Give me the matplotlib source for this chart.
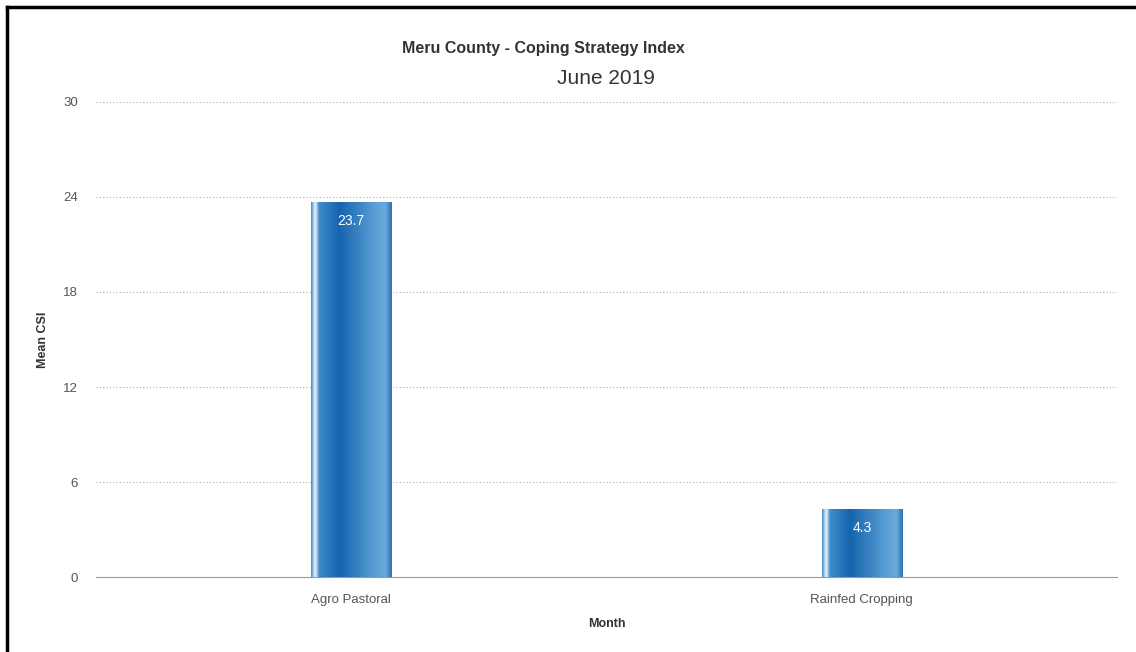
import numpy as np
import matplotlib.pyplot as plt
from matplotlib.colors import LinearSegmentedColormap

# Meru County - CSI per livelihood zone, June 2019
zones = ["Agro Pastoral", "Rainfed Cropping"]
mean_csi = [23.7, 4.3]
y_ticks = [0, 6, 12, 18, 24, 30]

plt.rcParams["font.family"] = ["Liberation Sans", "DejaVu Sans"]

fig = plt.figure(figsize=(11.36, 6.52), dpi=100)
ax = fig.add_axes([0.0845, 0.115, 0.8988, 0.7286])

x = np.arange(len(zones))
bars = ax.bar(x, mean_csi, width=0.157, color="#1f6fb8", zorder=3)

# horizontal gradient like the original column shading
grad = LinearSegmentedColormap.from_list("col", [
    (0.0, "#3f8bcb"), (0.05, "#f0f6fb"), (0.1, "#3f8bcb"),
    (0.35, "#1565ae"), (0.8, "#5b9fd6"), (0.92, "#6aaadc"), (1.0, "#2a72b5")])
g = np.linspace(0, 1, 256).reshape(1, -1)
for b in bars:
    x0, y0 = b.get_x(), b.get_y()
    im = ax.imshow(g, cmap=grad, aspect="auto", zorder=4,
                   extent=[x0, x0 + b.get_width(), y0, y0 + b.get_height()])
    im.set_clip_path(b)

for xi, v in zip(x, mean_csi):
    ax.text(xi, v - 0.75, f"{v}", ha="center", va="top", color="white",
            fontsize=10, zorder=5)

ax.set_xlim(-0.5, 1.5)
ax.set_ylim(0, 30)
ax.set_yticks(y_ticks)
ax.set_xticks(x)
ax.set_xticklabels(zones)
ax.tick_params(axis="both", length=0, labelsize=9.5, colors="#555555")
ax.tick_params(axis="y", pad=13)
ax.tick_params(axis="x", pad=12)
ax.grid(axis="y", linestyle=(0, (1, 2)), color="#aaaaaa", linewidth=0.8, zorder=0)
for s in ["top", "right", "left"]:
    ax.spines[s].set_visible(False)
ax.spines["bottom"].set_color("#999999")

ax.set_ylabel("Mean CSI", fontsize=9, fontweight="bold", color="#333333", labelpad=10)
ax.set_xlabel("Month", fontsize=9, fontweight="bold", color="#333333", labelpad=9)

fig.text(0.478, 0.919, "Meru County - Coping Strategy Index", ha="center",
         fontsize=11.5, fontweight="bold", color="#333333")
fig.text(0.5335, 0.871, "June 2019", ha="center", fontsize=15, color="#333333")

# black frame on top and left edges
fig.add_artist(plt.Line2D([0.0065, 0.0065], [0, 0.989], color="black", lw=2.5,
                          transform=fig.transFigure))
fig.add_artist(plt.Line2D([0.0065, 1], [0.989, 0.989], color="black", lw=2.5,
                          transform=fig.transFigure))

fig.savefig("out.png", dpi=100)
